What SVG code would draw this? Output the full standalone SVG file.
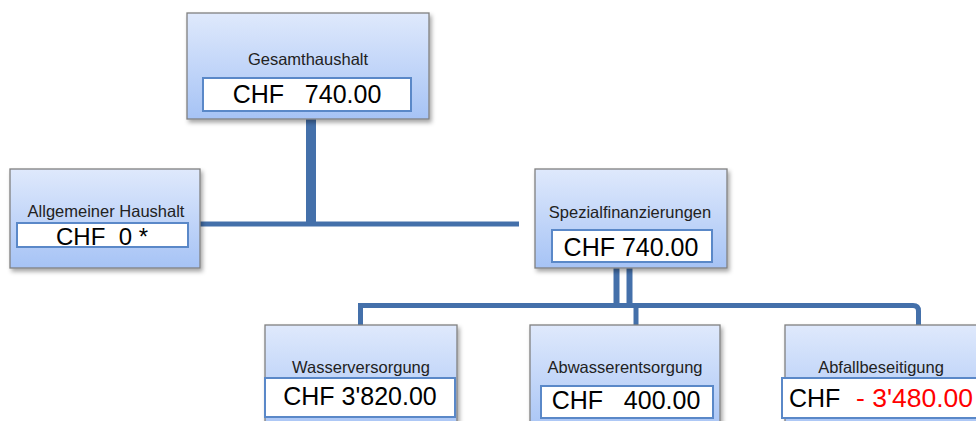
<svg xmlns="http://www.w3.org/2000/svg" width="976" height="421" viewBox="0 0 976 421">
<defs>
<linearGradient id="g" x1="0" y1="0" x2="0" y2="1">
<stop offset="0" stop-color="#dfe9fc"/>
<stop offset="1" stop-color="#a6c3f5"/>
</linearGradient>
<filter id="sh" x="-10%" y="-10%" width="125%" height="130%">
<feDropShadow dx="2" dy="3" stdDeviation="2" flood-color="#000" flood-opacity="0.35"/>
</filter>
</defs>
<style>
.box{fill:url(#g);stroke:#808080;stroke-width:1.3;filter:url(#sh)}
.val{fill:#fff;stroke:#5a88c8;stroke-width:2}
.lbl{font-family:"Liberation Sans",Arial,sans-serif;font-size:16.5px;fill:#222;text-anchor:middle}
.num{font-family:"Liberation Sans",Arial,sans-serif;font-size:25px;fill:#000;text-anchor:middle;white-space:pre}
.c{fill:none;stroke:#4470aa;stroke-width:5}
</style>
<g id="connectors">
<line class="c" x1="311" y1="119" x2="311" y2="226" style="stroke-width:10"/>
<line class="c" x1="200" y1="224" x2="519" y2="224"/>
<line class="c" x1="616.5" y1="268" x2="616.5" y2="307" style="stroke-width:6"/>
<line class="c" x1="629.5" y1="268" x2="629.5" y2="307" style="stroke-width:6"/>
<path class="c" d="M360.5 325 V305.5 H913 Q918.5 305.5 918.5 311 V325"/>
<line class="c" x1="636" y1="305" x2="636" y2="325"/>
</g>
<g id="gesamthaushalt">
<rect class="box" x="187" y="13" width="242" height="106"/>
<text class="lbl" x="308" y="65">Gesamthaushalt</text>
<rect class="val" x="203" y="78" width="208" height="33"/>
<text class="num" x="307" y="103">CHF   740.00</text>
</g>
<g id="allgemeiner">
<rect class="box" x="10" y="169" width="190" height="99"/>
<text class="lbl" x="106" y="217">Allgemeiner Haushalt</text>
<rect class="val" x="17" y="223" width="171" height="24"/>
<text class="num" x="102" y="245" style="font-size:24px">CHF  0 *</text>
</g>
<g id="spezial">
<rect class="box" x="535" y="169" width="192" height="99"/>
<text class="lbl" x="630" y="218">Spezialfinanzierungen</text>
<rect class="val" x="552" y="230" width="160" height="32"/>
<text class="num" x="631" y="256">CHF 740.00</text>
</g>
<g id="wasser">
<rect class="box" x="265" y="325" width="192" height="110"/>
<text class="lbl" x="361" y="373">Wasserversorgung</text>
<rect class="val" x="265" y="378" width="190" height="39"/>
<text class="num" x="360" y="405">CHF 3'820.00</text>
</g>
<g id="abwasser">
<rect class="box" x="530" y="325" width="190" height="110"/>
<text class="lbl" x="625" y="373">Abwasserentsorgung</text>
<rect class="val" x="541" y="386" width="172" height="32"/>
<text class="num" x="626" y="409">CHF   400.00</text>
</g>
<g id="abfall">
<rect class="box" x="785" y="325" width="200" height="110"/>
<text class="lbl" x="881" y="373">Abfallbeseitigung</text>
<rect class="val" x="782" y="378" width="210" height="40"/>
<text class="num" x="789" y="407" style="text-anchor:start">CHF</text>
<text class="num" x="856" y="407" style="text-anchor:start;fill:#ff0000;font-size:26.5px">- 3'480.00</text>
</g>
</svg>
